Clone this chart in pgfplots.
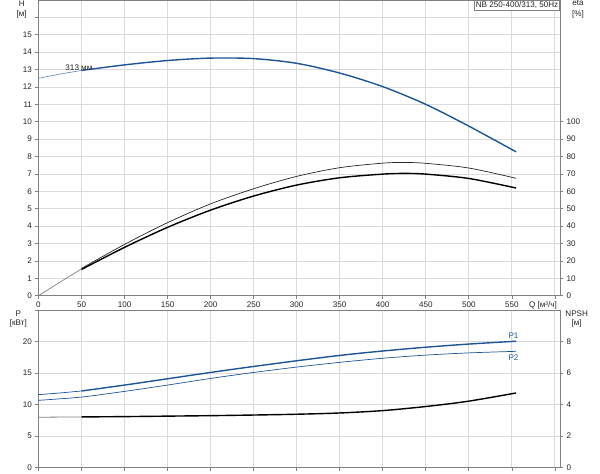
\documentclass[border=0pt]{standalone}
\usepackage{pgfplots}
\pgfplotsset{compat=1.18}
\usepackage{fontspec}
\setmainfont{Liberation Sans}
\definecolor{pblue}{RGB}{30,85,150}
\definecolor{pbluel}{RGB}{95,130,175}
\definecolor{gridc}{RGB}{218,218,218}
\definecolor{axc}{RGB}{128,128,128}
\definecolor{txt}{RGB}{35,35,35}
\newcommand{\lf}{\fontsize{8.1}{9.5}\selectfont}
\pgfplotsset{
  base/.style={
    scale only axis, width=521.5pt, xmin=0, xmax=606,
    axis line style={axc, line width=0.9pt},
    grid style={gridc, line width=0.8pt},
    tick style={axc, line width=0.6pt}, tick align=outside, major tick length=3pt,
    tick label style={font=\lf, text=txt},
    /pgf/number format/assume math mode=true,
    clip=false,
  }
}
\begin{document}
\begin{tikzpicture}
\path[use as bounding box] (0,0) rectangle (600pt,474pt);
% ---------- top: H ----------
\begin{axis}[base, at={(38.5pt,178.3pt)}, anchor=south west, height=295.7pt,
  ymin=0, ymax=17,
  xtick={0,50,...,600}, xticklabels={0,50,100,150,200,250,300,350,400,450,500,550,{}},
  ytick={0,...,16}, yticklabels={0,1,2,3,4,5,6,7,8,9,10,11,12,13,14,15,{}},
  xtick pos=lower, ytick pos=left, grid=major]
\addplot[pbluel, line width=0.6pt, smooth] coordinates {(0,12.5)(25,12.74)(50,12.95)};
\addplot[pblue, line width=1.4pt, smooth] coordinates {
(50,12.95)(100,13.27)(150,13.52)(200,13.66)(250,13.63)(300,13.36)(350,12.8)(400,12.02)(450,11.0)(500,9.75)(555,8.27)};
\node[font=\lf, text=txt] at (axis cs:47,13.08) {313 мм};
\node[font=\lf, text=txt, draw=axc, fill=white, anchor=north east, inner sep=1.5pt, line width=0.6pt] at (rel axis cs:1,1) {NB 250-400/313, 50Hz};
\end{axis}
% ---------- top: eta ----------
\begin{axis}[base, at={(38.5pt,178.3pt)}, anchor=south west, height=295.7pt,
  ymin=0, ymax=170, axis x line=none, axis y line*=right,
  ytick={0,10,...,100}]
\addplot[gray, line width=0.7pt, smooth] coordinates {(0,0)(25,7.8)(50,15.4)};
\addplot[black!85, line width=0.7pt, smooth] coordinates {
(50,15.7)(100,29.5)(150,42)(200,52.8)(250,61.5)(300,68.6)(350,73.6)(400,76.2)(425,76.6)(450,76.1)(500,73.4)(555,67.5)};
\addplot[black, line width=1.4pt, smooth] coordinates {
(50,15.1)(100,27.8)(150,39.3)(200,49.2)(250,57.3)(300,63.6)(350,67.8)(400,69.9)(425,70.3)(450,69.9)(500,67.4)(555,61.9)};
\end{axis}
% ---------- bottom: P ----------
\begin{axis}[base, at={(38.5pt,6.3pt)}, anchor=south west, height=157.7pt,
  ymin=0, ymax=25,
  xtick={0,50,...,600}, xticklabels={},
  ytick={0,5,...,25}, yticklabels={0,5,10,15,20,{}},
  xtick pos=lower, ytick pos=left, grid=major]
\addplot[pblue, line width=0.7pt, smooth] coordinates {(0,11.58)(25,11.85)(50,12.16)};
\addplot[pblue, line width=1.4pt, smooth] coordinates {
(50,12.16)(100,13.1)(150,14.1)(200,15.1)(250,16.05)(300,16.95)(350,17.8)(400,18.5)(450,19.1)(500,19.6)(555,20.05)};
\addplot[pblue, line width=0.7pt, smooth] coordinates {
(0,10.68)(50,11.2)(100,12.1)(150,13.1)(200,14.15)(250,15.1)(300,15.95)(350,16.7)(400,17.35)(450,17.85)(500,18.2)(555,18.45)};
\node[font=\lf, text=pblue] at (axis cs:552,20.9) {P1};
\node[font=\lf, text=pblue] at (axis cs:552,17.4) {P2};
\end{axis}
% ---------- bottom: NPSH ----------
\begin{axis}[base, at={(38.5pt,6.3pt)}, anchor=south west, height=157.7pt,
  ymin=0, ymax=10, axis x line=none, axis y line*=right,
  ytick={0,2,4,6,8}]
\addplot[gray, line width=0.8pt] coordinates {(0,3.2)(50,3.22)};
\addplot[black, line width=1.4pt, smooth] coordinates {
(50,3.22)(100,3.24)(150,3.27)(200,3.3)(250,3.34)(300,3.39)(350,3.47)(400,3.62)(450,3.88)(500,4.22)(555,4.74)};
\end{axis}
% ---------- labels ----------
\begin{scope}[every node/.style={font=\lf, text=txt, inner sep=0pt}]
\node at (21.7pt,470.7pt) {H};
\node at (21.7pt,460pt) {[м]};
\node at (578pt,470.7pt) {eta};
\node at (578pt,460pt) {[\%]};
\node at (18.3pt,160.7pt) {P};
\node at (18.3pt,150.7pt) {[кВт]};
\node at (576.7pt,160.7pt) {NPSH};
\node at (576.7pt,150.7pt) {[м]};
\node at (543pt,169pt) {Q [м³/ч]};
\end{scope}
\end{tikzpicture}
\end{document}
